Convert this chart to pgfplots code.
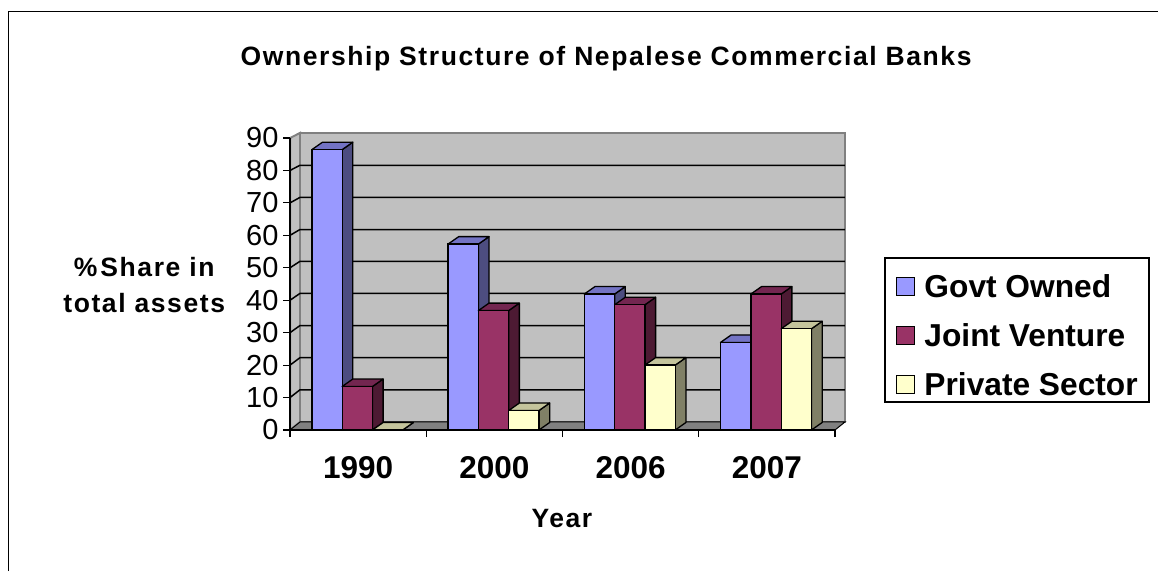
\documentclass[border=0pt]{standalone}
\usepackage{pgfplots}
\usepackage{fontspec}
\setmainfont{Liberation Sans}
\pgfplotsset{compat=1.18}

% Bar width and the oblique depth of the 3-D boxes, in data units
\newcommand{\bw}{0.2224}
\newcommand{\dx}{0.0785}
\newcommand{\dy}{2.31}
% Spaced bold lettering of the title and axis labels
\newcommand{\labelfont}{\fontsize{26.5}{36}\selectfont\bfseries\addfontfeature{LetterSpace=6}}

% Side and top faces of one box: left edge, value, side colour, top colour
\newcommand{\boxfaces}[4]{%
  \pgfmathsetmacro{\xa}{#1+\bw}%
  \pgfmathsetmacro{\xb}{#1+\bw+\dx}%
  \pgfmathsetmacro{\xc}{#1+\dx}%
  \pgfmathsetmacro{\ya}{#2+\dy}%
  \addplot[forget plot, draw=black, line width=1.3pt, line join=round, fill=#3]
    coordinates {(\xa,0) (\xa,#2) (\xb,\ya) (\xb,\dy)} --cycle;
  \addplot[forget plot, draw=black, line width=1.3pt, line join=round, fill=#4]
    coordinates {(#1,#2) (\xa,#2) (\xb,\ya) (\xc,\ya)} --cycle;
}
% One gridline: it climbs the side wall, then crosses the back wall
\newcommand{\wallgrid}[2]{%
  \addplot[forget plot, black, line width=1.5pt]
    coordinates {(0,#1) (0.0734,#2) (4.073,#2)};
}

\definecolor{govt}{HTML}{9999FF}
\definecolor{govtside}{HTML}{4D4D80}
\definecolor{govttop}{HTML}{7373C4}
\definecolor{joint}{HTML}{993366}
\definecolor{jointside}{HTML}{4D1A33}
\definecolor{jointtop}{HTML}{732650}
\definecolor{private}{HTML}{FFFFCC}
\definecolor{privateside}{HTML}{808066}
\definecolor{privatetop}{HTML}{C4C49C}
\definecolor{wall}{HTML}{C0C0C0}
\definecolor{walledge}{HTML}{808080}

\begin{document}
\begin{tikzpicture}[x=1pt,y=1pt]
\useasboundingbox (0,0) rectangle (1158,571);
% Chart-area edge and legend frame
\draw[black, line width=1.2pt] (8.5,0) -- (8.5,559.5) -- (1158,559.5);
\draw[black, line width=1.3pt] (885,169) rectangle (1149,313);
\begin{axis}[
  at={(290pt,141pt)}, anchor=south west,
  scale only axis, width=545pt, height=292pt,
  xmin=0, xmax=4, ymin=0, ymax=90,
  clip=false, axis on top,
  axis x line*=bottom, axis y line*=left,
  axis line style={black, line width=1.1pt, -},
  tick style={black, line width=1.1pt},
  tick align=outside, major tick length=7pt,
  xtick={0,1,2,3,4}, x tick label as interval,
  xticklabels={1990,2000,2006,2007},
  ytick={0,10,...,90},
  x tick label style={font=\fontsize{31.5}{34}\selectfont\bfseries, yshift=-16pt},
  y tick label style={font=\fontsize{29}{32}\selectfont, xshift=-1pt,
    /pgf/number format/assume math mode=true},
  title={Ownership Structure of Nepalese Commercial Banks},
  title style={font=\labelfont,
    at={(axis description cs:0.58,1.25)}, anchor=center},
  xlabel={Year},
  xlabel style={font=\labelfont,
    at={(axis description cs:0.499,-0.303)}, anchor=center},
  ylabel={\%\kern3pt Share in\\total assets},
  ylabel style={font=\labelfont, align=center,
    at={(axis description cs:-0.2675,0.4966)}, anchor=center, rotate=-90},
  legend style={at={(axis description cs:1.1027,0.5616)}, anchor=north west,
    draw=none, fill=none, inner xsep=5pt, inner ysep=6pt,
    font=\fontsize{31.7}{36}\selectfont\bfseries,
    row sep=20.5pt,
    /tikz/every odd column/.append style={column sep=7pt}},
  legend cell align=left,
  legend image code/.code={\draw[#1, line width=1.3pt] (7pt,-9pt) rectangle (25pt,9pt);},
]
\addlegendimage{draw=black, fill=govt}
\addlegendimage{draw=black, fill=joint}
\addlegendimage{draw=black, fill=private}

% Back wall, side wall and floor
\addplot[forget plot, draw=walledge, line width=2pt, fill=wall]
  coordinates {(0,0) (0,90) (0.0734,91.55) (0.0734,2.47)} --cycle;
\addplot[forget plot, draw=walledge, line width=2pt, fill=wall]
  coordinates {(0.0734,2.47) (0.0734,91.55) (4.073,91.55) (4.073,2.47)} --cycle;
\wallgrid{10}{12.4}
\wallgrid{20}{22.3}
\wallgrid{30}{32.2}
\wallgrid{40}{42.1}
\wallgrid{50}{52.0}
\wallgrid{60}{61.8}
\wallgrid{70}{71.7}
\wallgrid{80}{81.6}
\addplot[forget plot, draw=black, line width=1pt, fill=walledge]
  coordinates {(0,0) (0.0734,2.47) (4.073,2.47) (4,0)} --cycle;

% Government-owned banks
\boxfaces{0.16}{86.4}{govtside}{govttop}
\boxfaces{1.16}{57.3}{govtside}{govttop}
\boxfaces{2.16}{41.9}{govtside}{govttop}
\boxfaces{3.16}{27}{govtside}{govttop}
\addplot[forget plot, ybar, bar width=0.2224, bar shift=-0.2284, draw=black, line width=1.3pt, fill=govt]
  coordinates {(0.5,86.4) (1.5,57.3) (2.5,41.9) (3.5,27)};

% Joint-venture banks
\boxfaces{0.3824}{13.4}{jointside}{jointtop}
\boxfaces{1.3824}{36.8}{jointside}{jointtop}
\boxfaces{2.3824}{38.6}{jointside}{jointtop}
\boxfaces{3.3824}{41.9}{jointside}{jointtop}
\addplot[forget plot, ybar, bar width=0.2224, bar shift=-0.0060, draw=black, line width=1.3pt, fill=joint]
  coordinates {(0.5,13.4) (1.5,36.8) (2.5,38.6) (3.5,41.9)};

% Private-sector banks
\boxfaces{0.6048}{0}{privateside}{privatetop}
\boxfaces{1.6048}{6}{privateside}{privatetop}
\boxfaces{2.6048}{20}{privateside}{privatetop}
\boxfaces{3.6048}{31.2}{privateside}{privatetop}
\addplot[forget plot, ybar, bar width=0.2224, bar shift=0.2164, draw=black, line width=1.3pt, fill=private]
  coordinates {(0.5,0) (1.5,6) (2.5,20) (3.5,31.2)};

\legend{Govt Owned, Joint Venture, Private Sector}
\end{axis}
\end{tikzpicture}
\end{document}
